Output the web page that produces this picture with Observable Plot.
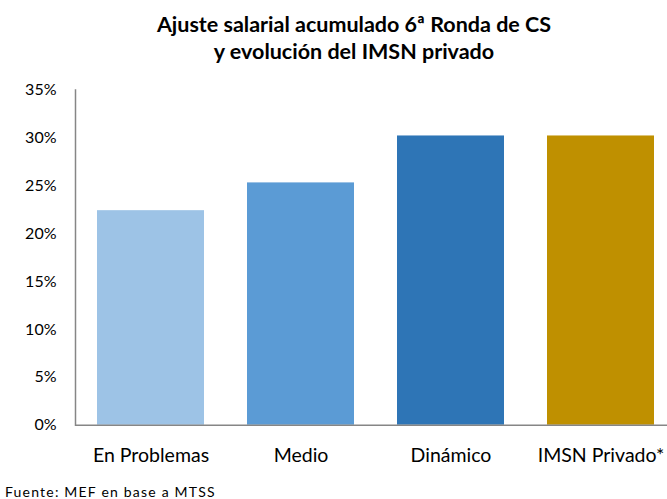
<!DOCTYPE html>
<html>
<head>
<meta charset="utf-8">
<script src="https://cdn.jsdelivr.net/npm/d3@7"></script>
<script src="https://cdn.jsdelivr.net/npm/@observablehq/plot@0.6"></script>
<style>
  html, body { margin: 0; padding: 0; background: #fff; }
  body { width: 667px; height: 499px; overflow: hidden; font-family: Lato, "Open Sans", sans-serif; color: #000; }
  #title { width: 626px; margin-left: 41px; padding-top: 11px; height: 59px; text-align: center; font-weight: bold; font-size: 21.5px; line-height: 27px; white-space: nowrap; }
  #caption { font-size: 14px; line-height: 17px; padding-left: 5px; margin-top: 13px; letter-spacing: 1.2px; white-space: nowrap; }
  svg { display: block; }
</style>
</head>
<body>
<div id="title">Ajuste salarial acumulado 6ª Ronda de CS<br>y evolución del IMSN privado</div>
<div id="chart"></div>
<div id="caption">Fuente: MEF en base a MTSS</div>
<script>
const categories = ["En Problemas", "Medio", "Dinámico", "IMSN Privado*"];
const values = [0.224, 0.253, 0.302, 0.302];
const colors = ["#9DC3E6", "#5B9BD5", "#2E75B6", "#BF9000"];
const yTicks = [0, 0.05, 0.10, 0.15, 0.20, 0.25, 0.30, 0.35];

const data = categories.map((c, i) => ({category: c, value: values[i], color: colors[i]}));

const chart = Plot.plot({
  width: 667,
  height: 400,
  marginLeft: 75,
  marginRight: 0,
  marginTop: 19.5,
  marginBottom: 45.3,
  style: {fontFamily: "Lato, 'Open Sans', sans-serif", fontSize: "16px", color: "#000", background: "#fff"},
  x: {domain: categories, range: [75, 675], paddingInner: 0.287, paddingOuter: 0.1435, label: null},
  y: {domain: [0, 0.35], label: null},
  marks: [
    Plot.barY(data, {x: "category", y: "value", fill: "color"}),
    Plot.axisY({ticks: yTicks, tickFormat: d3.format(".0%"), tickSize: 0, tickPadding: 19, label: null, fontSize: 16}),
    Plot.axisX({tickSize: 0, tickPadding: 22.5, label: null, fontSize: 19.5}),
    Plot.ruleY([0], {stroke: "#868686", strokeWidth: 1.5}),
    Plot.frame({anchor: "left", stroke: "#868686", strokeWidth: 1.5})
  ]
});
document.getElementById("chart").appendChild(chart);
</script>
</body>
</html>
